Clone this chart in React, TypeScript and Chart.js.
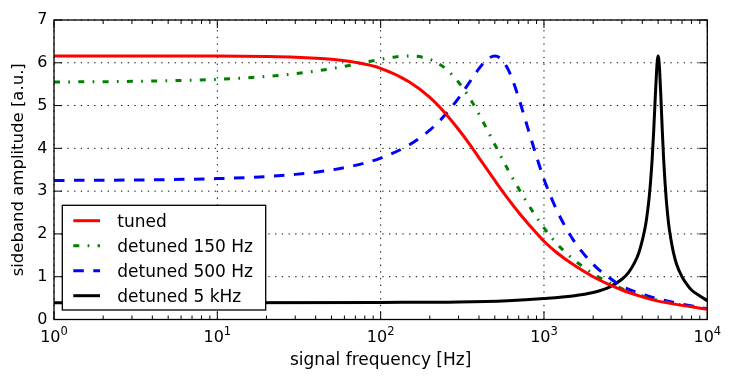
import React, { useEffect, useRef } from 'react';
import { Chart, registerables } from 'chart.js';

Chart.register(...registerables);

const FONT = '"DejaVu Sans", "Liberation Sans", sans-serif';

// ---- data ----
const freqTuned = [1, 3, 10, 20, 30, 50, 70, 100, 150, 200, 250, 300, 350, 400, 500, 600, 700, 800, 1000, 1200, 1500, 2000, 2500, 3000, 4000, 5000, 7000, 10000];
const ampTuned = [6.16, 6.16, 6.157, 6.147, 6.131, 6.081, 6.01, 5.87, 5.55, 5.19, 4.81, 4.44, 4.1, 3.78, 3.25, 2.83, 2.5, 2.24, 1.83, 1.56, 1.29, 1.0, 0.82, 0.69, 0.53, 0.43, 0.33, 0.24];

const freq150 = [1, 3, 10, 20, 30, 40, 50, 60, 70, 85, 100, 120, 150, 180, 200, 250, 300, 350, 400, 500, 600, 700, 800, 1000, 1200, 1500, 2000, 2500, 3000, 4000, 5000, 7000, 10000];
const amp150 = [5.55, 5.566, 5.614, 5.681, 5.745, 5.806, 5.863, 5.917, 5.965, 6.03, 6.081, 6.131, 6.16, 6.131, 6.081, 5.863, 5.545, 5.18, 4.8, 4.09, 3.51, 3.06, 2.69, 2.14, 1.77, 1.42, 1.07, 0.86, 0.72, 0.55, 0.45, 0.34, 0.245];

const freq500 = [1, 3, 10, 20, 30, 50, 70, 100, 150, 200, 250, 300, 350, 400, 450, 500, 550, 600, 650, 700, 800, 900, 1000, 1200, 1500, 2000, 2500, 3000, 4000, 5000, 7000, 10000];
const amp500 = [3.25, 3.26, 3.293, 3.342, 3.392, 3.495, 3.602, 3.773, 4.084, 4.427, 4.795, 5.176, 5.545, 5.863, 6.081, 6.16, 6.081, 5.863, 5.545, 5.18, 4.45, 3.81, 3.28, 2.55, 1.88, 1.29, 0.98, 0.78, 0.59, 0.48, 0.36, 0.25];

const freq5k = [1, 10, 100, 300, 600, 1000, 1500, 2000, 2500, 3000, 3300, 3600, 3800, 4000, 4200, 4400, 4500, 4600, 4700, 4800, 4900, 4950, 5000, 5050, 5100, 5200, 5300, 5400, 5500, 5600, 5800, 6000, 6200, 6500, 7000, 7500, 8000, 9000, 10000];
const amp5k = [0.39, 0.39, 0.4, 0.41, 0.44, 0.49, 0.55, 0.63, 0.75, 0.94, 1.1, 1.34, 1.55, 1.85, 2.23, 2.83, 3.25, 3.77, 4.43, 5.18, 5.86, 6.08, 6.16, 6.08, 5.86, 5.18, 4.43, 3.77, 3.25, 2.83, 2.23, 1.85, 1.57, 1.28, 1.0, 0.82, 0.69, 0.55, 0.44];

const seriesLabels = ['tuned', 'detuned 150 Hz', 'detuned 500 Hz', 'detuned 5 kHz'];
const seriesColors = ['#ff0000', '#008000', '#0000ff', '#000000'];
const seriesDash: number[][] = [[], [6, 8.3, 1.7, 8.3], [10.5, 9.5], []];

const xMajorTicks = [1, 10, 100, 1000, 10000];
const xTickBase = '10';
const xTickExponents = ['0', '1', '2', '3', '4'];
const xMinorMultipliers = [2, 3, 4, 5, 6, 7, 8, 9];
const yTicks = [0, 1, 2, 3, 4, 5, 6, 7];

const xTitle = 'signal frequency [Hz]';
const yTitle = 'sideband amplitude [a.u.]';

const mplPlugin = {
  id: 'mplDecor',
  beforeDatasetsDraw(chart: any) {
    const { ctx, chartArea: a } = chart;
    const x = chart.scales.x;
    const y = chart.scales.y;
    ctx.save();
    ctx.strokeStyle = '#000';
    ctx.lineWidth = 1;
    ctx.setLineDash([1.3, 5.4]);
    xMajorTicks.forEach((v) => {
      const px = x.getPixelForValue(v);
      ctx.beginPath();
      ctx.moveTo(px, a.bottom);
      ctx.lineTo(px, a.top);
      ctx.stroke();
    });
    yTicks.forEach((v) => {
      const py = y.getPixelForValue(v);
      ctx.beginPath();
      ctx.moveTo(a.left, py);
      ctx.lineTo(a.right, py);
      ctx.stroke();
    });
    ctx.restore();
  },
  afterDatasetsDraw(chart: any) {
    const { ctx, chartArea: a } = chart;
    const x = chart.scales.x;
    const y = chart.scales.y;
    ctx.save();
    ctx.setLineDash([]);
    ctx.strokeStyle = '#000';
    ctx.lineWidth = 1;
    const majorLen = 8;
    const minorLen = 4;
    ctx.beginPath();
    xMajorTicks.forEach((v) => {
      const px = x.getPixelForValue(v);
      ctx.moveTo(px, a.bottom);
      ctx.lineTo(px, a.bottom - majorLen);
      ctx.moveTo(px, a.top);
      ctx.lineTo(px, a.top + majorLen);
    });
    xMajorTicks.slice(0, -1).forEach((d) => {
      xMinorMultipliers.forEach((m) => {
        const px = x.getPixelForValue(d * m);
        ctx.moveTo(px, a.bottom);
        ctx.lineTo(px, a.bottom - minorLen);
        ctx.moveTo(px, a.top);
        ctx.lineTo(px, a.top + minorLen);
      });
    });
    yTicks.forEach((v) => {
      const py = y.getPixelForValue(v);
      ctx.moveTo(a.left, py);
      ctx.lineTo(a.left + majorLen, py);
      ctx.moveTo(a.right, py);
      ctx.lineTo(a.right - majorLen, py);
    });
    ctx.stroke();

    // frame
    ctx.lineWidth = 1.3;
    ctx.strokeRect(a.left, a.top, a.right - a.left, a.bottom - a.top);

    // legend
    const lx = a.left + 8.3;
    const ly = a.top + 185.3;
    const lw = 203.4;
    const lh = 104.7;
    ctx.fillStyle = '#ffffff';
    ctx.fillRect(lx, ly, lw, lh);
    ctx.lineWidth = 1.3;
    ctx.strokeStyle = '#000';
    ctx.strokeRect(lx, ly, lw, lh);
    ctx.font = '17px ' + FONT;
    ctx.textAlign = 'left';
    ctx.textBaseline = 'alphabetic';
    chart.data.datasets.forEach((ds: any, i: number) => {
      const rowY = ly + 15.4 + 25 * i;
      ctx.save();
      ctx.strokeStyle = ds.borderColor;
      ctx.lineWidth = ds.borderWidth;
      ctx.lineCap = 'butt';
      ctx.setLineDash(ds.borderDash || []);
      ctx.beginPath();
      ctx.moveTo(lx + 11, rowY);
      ctx.lineTo(lx + 37.7, rowY);
      ctx.stroke();
      ctx.restore();
      ctx.fillStyle = '#000';
      ctx.fillText(ds.label, lx + 55, rowY + 6.3);
    });

    // x tick labels (10 with superscript exponent)
    ctx.fillStyle = '#000';
    xMajorTicks.forEach((v, i) => {
      const px = x.getPixelForValue(v);
      ctx.font = '16px ' + FONT;
      const wb = ctx.measureText(xTickBase).width;
      ctx.font = '11.5px ' + FONT;
      const we = ctx.measureText(xTickExponents[i]).width;
      const start = px - (wb + we) / 2;
      ctx.font = '16px ' + FONT;
      ctx.fillText(xTickBase, start, a.bottom + 22.2);
      ctx.font = '11.5px ' + FONT;
      ctx.fillText(xTickExponents[i], start + wb, a.bottom + 15.2);
    });
    ctx.restore();
  },
};

export default function App() {
  const canvasRef = useRef<HTMLCanvasElement | null>(null);

  useEffect(() => {
    document.body.style.margin = '0';
    const canvas = canvasRef.current;
    if (!canvas) return;
    const mk = (f: number[], v: number[]) => f.map((fx, i) => ({ x: fx, y: v[i] }));
    const dataSets = [mk(freqTuned, ampTuned), mk(freq150, amp150), mk(freq500, amp500), mk(freq5k, amp5k)];
    const chart = new Chart(canvas, {
      type: 'line',
      data: {
        datasets: dataSets.map((d, i) => ({
          label: seriesLabels[i],
          data: d,
          borderColor: seriesColors[i],
          backgroundColor: seriesColors[i],
          borderWidth: 3,
          borderDash: seriesDash[i],
          borderCapStyle: 'butt',
          pointRadius: 0,
          fill: false,
          cubicInterpolationMode: 'monotone',
        })),
      },
      options: {
        animation: false,
        responsive: false,
        devicePixelRatio: 1,
        events: [],
        layout: { padding: { top: 20, right: 28.7, bottom: 0, left: 0 } },
        plugins: {
          legend: { display: false },
          tooltip: { enabled: false },
          title: { display: false },
        },
        scales: {
          x: {
            type: 'logarithmic',
            min: 1,
            max: 10000,
            grid: { display: false },
            border: { display: false },
            ticks: { display: false },
            title: {
              display: true,
              text: xTitle,
              color: '#000',
              font: { family: FONT, size: 17 },
              padding: { top: 0, bottom: 11.5 },
            },
            afterFit: (s: any) => {
              s.height = 62.5;
            },
          },
          y: {
            type: 'linear',
            min: 0,
            max: 7,
            grid: { display: false, drawTicks: false },
            border: { display: false },
            ticks: {
              stepSize: 1,
              color: '#000',
              font: { family: FONT, size: 16 },
              padding: 6.5,
            },
            title: {
              display: true,
              text: yTitle,
              color: '#000',
              font: { family: FONT, size: 16.5 },
              padding: { top: 8.9, bottom: 0 },
            },
            afterFit: (s: any) => {
              s.width = 54;
            },
          },
        },
      } as any,
      plugins: [mplPlugin],
    });
    return () => chart.destroy();
  }, []);

  return (
    <canvas
      ref={canvasRef}
      width={736}
      height={382}
      style={{ display: 'block', width: 736, height: 382 }}
    />
  );
}
